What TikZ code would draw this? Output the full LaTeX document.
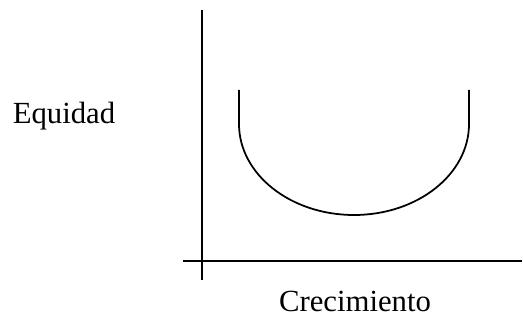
\documentclass[tikz,border=0pt]{standalone}
\usepackage{fontspec}
\setmainfont{Liberation Serif}

\begin{document}
\begin{tikzpicture}[x=0.02cm,y=-0.02cm,line width=1pt]
\useasboundingbox (0,0) rectangle (523,320);
\coordinate (ytop) at (202,10);
\coordinate (ybot) at (202,280);
\coordinate (xl) at (183,261);
\coordinate (xr) at (522,261);
\coordinate (lt) at (239,90);
\coordinate (lc) at (239,124);
\coordinate (rt) at (469,90);
\draw (ytop) -- (ybot);
\draw (xl) -- (xr);
\draw (lt) -- (lc) arc[start angle=180,end angle=0,x radius=115,y radius=91] -- (rt);
\node[font=\fontsize{17.5}{21}\selectfont] (eq) at (64,116) {Equidad};
\node[font=\fontsize{17.5}{21}\selectfont] (cr) at (355,301) {Crecimiento};
\end{tikzpicture}
\end{document}
